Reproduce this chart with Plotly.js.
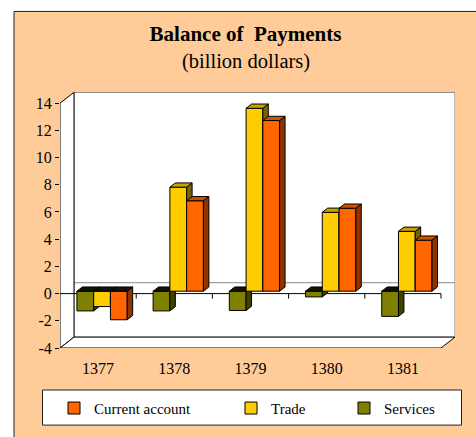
<!DOCTYPE html>
<html>
<head>
<meta charset="utf-8">
<script src="https://cdn.plot.ly/plotly-3.0.1.min.js"></script>
<style>html,body{margin:0;padding:0;background:#fff;}#chart{width:476px;height:437px;}</style>
</head>
<body>
<div id="chart"></div>
<script>
// ---- data ----
const years = ['1377', '1378', '1379', '1380', '1381'];
const currentAccount = [-2.1, 6.65, 12.55, 6.1, 3.75];
const trade = [-1.13, 7.65, 13.45, 5.8, 4.4];
const services = [-1.45, -1.45, -1.42, -0.42, -1.85];
const yTicks = [-4, -2, 0, 2, 4, 6, 8, 10, 12, 14];
const seriesNames = ['Current account', 'Trade', 'Services'];

// ---- pseudo-3D geometry (style only) ----
const FONT = 'Liberation Serif, Times New Roman, serif';
const PXX = 76.2, PXY = 13.76;             // px per data unit
const L = 60, R = 21, T = 92, B = 86, WIDTH = 476, HEIGHT = 437;
const X0 = -0.5, X1 = X0 + (WIDTH - L - R) / PXX;
const Y0 = -4, Y1 = Y0 + (HEIGHT - T - B) / PXY;
const DX = 14 / PXX, DY = 0.8;             // full depth of the box
const BZ = 0.22 * DY;                      // front plane of the bars (zero level)
const SDX = 0.39 * DX, SDY = 0.39 * DY;    // depth of the bars
const CX = 0.052, W = 0.22;                // cluster shift and bar width
const nCat = years.length;
const catIdx = years.map((_, i) => i);

const styles = [
  { name: seriesNames[2], vals: services, k: -1, axis: '', front: '#808000', posTop: '#A6A600', negTop: '#121200', side: '#404000', legend: 'legend3' },
  { name: seriesNames[1], vals: trade, k: 0, axis: '2', front: '#FFCC00', posTop: '#C9A200', negTop: '#111111', side: '#7A6400', legend: 'legend2' },
  { name: seriesNames[0], vals: currentAccount, k: 1, axis: '3', front: '#FF6600', posTop: '#CC5200', negTop: '#111111', side: '#8F3300', legend: 'legend' }
];

function poly(xs, ys, pts) {
  pts.forEach(p => { xs.push(p[0]); ys.push(p[1]); });
  xs.push(pts[0][0]); ys.push(pts[0][1]);
  xs.push(null); ys.push(null);
}

const traces = [];
styles.forEach(s => {
  const xa = 'x' + s.axis, ya = 'y' + s.axis;
  const xc = catIdx.map(i => i + CX + s.k * W);
  traces.push({
    type: 'bar', name: s.name, x: xc, y: s.vals, base: s.vals.map(() => BZ), width: W,
    marker: { color: s.front, line: { color: '#000', width: 1 } },
    xaxis: xa, yaxis: ya, legend: s.legend, hoverinfo: 'skip'
  });
  const side = { x: [], y: [] }, topP = { x: [], y: [] }, topN = { x: [], y: [] };
  s.vals.forEach((v, i) => {
    const x0 = xc[i] - W / 2, x1 = xc[i] + W / 2;
    const lo = BZ + Math.min(v, 0), hi = BZ + Math.max(v, 0);
    poly(side.x, side.y, [[x1, lo], [x1, hi], [x1 + SDX, hi + SDY], [x1 + SDX, lo + SDY]]);
    const tgt = v >= 0 ? topP : topN;
    poly(tgt.x, tgt.y, [[x0, hi], [x1, hi], [x1 + SDX, hi + SDY], [x0 + SDX, hi + SDY]]);
  });
  [[side, s.side], [topP, s.posTop], [topN, s.negTop]].forEach(([d, c]) => {
    if (!d.x.length) return;
    traces.push({
      type: 'scatter', mode: 'lines', x: d.x, y: d.y, fill: 'toself', fillcolor: c,
      line: { color: '#000', width: 1 }, xaxis: xa, yaxis: ya,
      showlegend: false, hoverinfo: 'skip'
    });
  });
});

// ---- box / walls ----
const px2paperX = X => (X - L) / (WIDTH - L - R);
const px2paperY = Y => (HEIGHT - B - Y) / (HEIGHT - T - B);
const shapes = [];
shapes.push({ type: 'rect', xref: 'paper', yref: 'paper', layer: 'below',
  x0: px2paperX(14), x1: px2paperX(490), y0: px2paperY(450), y1: px2paperY(10.5),
  fillcolor: '#FFCC99', line: { color: '#222', width: 1 } });
shapes.push({ type: 'rect', xref: 'paper', yref: 'paper', layer: 'below',
  x0: px2paperX(42.5), x1: px2paperX(461.5), y0: px2paperY(429), y1: px2paperY(393.5),
  fillcolor: '#FFFFFF', line: { color: '#222', width: 1 } });
const xL = -0.5, xR = nCat - 0.5;
const yB = yTicks[0], yT = yTicks[yTicks.length - 1];
const path = pts => 'M' + pts.map(p => p[0] + ',' + p[1]).join('L') + 'Z';
shapes.push({ type: 'rect', xref: 'x', yref: 'y', layer: 'below', x0: xL + DX, x1: xR + DX, y0: yB + DY, y1: yT + DY,
  fillcolor: '#FFFFFF', line: { color: '#777', width: 1 } });
shapes.push({ type: 'line', xref: 'x', yref: 'y', layer: 'below', x0: xL + DX, x1: xR + DX, y0: DY, y1: DY,
  line: { color: '#888', width: 1 } });
shapes.push({ type: 'path', xref: 'x', yref: 'y', layer: 'below',
  path: path([[xL, yB], [xL, yT], [xL + DX, yT + DY], [xL + DX, yB + DY]]),
  fillcolor: '#FFFFFF', line: { color: '#000', width: 1 } });
shapes.push({ type: 'path', xref: 'x', yref: 'y', layer: 'below',
  path: path([[xL, yB], [xR, yB], [xR + DX, yB + DY], [xL + DX, yB + DY]]),
  fillcolor: '#FFFFFF', line: { color: '#000', width: 1 } });
shapes.push({ type: 'line', xref: 'x', yref: 'y', layer: 'below', x0: xL, x1: xR, y0: 0, y1: 0,
  line: { color: '#000', width: 1 } });
const TL = 5 / PXY;
for (let i = 0; i <= nCat; i++) {
  const b = i - 0.5;
  if (i > 0) shapes.push({ type: 'line', xref: 'x', yref: 'y', layer: 'below', x0: b, x1: b, y0: 0, y1: -TL, line: { color: '#000', width: 1 } });
  shapes.push({ type: 'line', xref: 'x', yref: 'y', layer: 'below', x0: b, x1: b, y0: yB, y1: yB - TL, line: { color: '#000', width: 1 } });
}

const legendBase = { orientation: 'h', yanchor: 'middle', y: px2paperY(412), xanchor: 'left',
  bgcolor: 'rgba(0,0,0,0)', borderwidth: 0, font: { family: FONT, size: 15, color: '#000' } };
const hiddenX = { overlaying: 'x', range: [X0, X1], visible: false, fixedrange: true };
const hiddenY = { overlaying: 'y', range: [Y0, Y1], visible: false, fixedrange: true };

const layout = {
  width: WIDTH, height: HEIGHT,
  margin: { l: L, r: R, t: T, b: B, pad: 0 },
  paper_bgcolor: '#FFFFFF', plot_bgcolor: 'rgba(0,0,0,0)',
  barmode: 'overlay',
  title: { text: 'Balance of  Payments', font: { family: FONT, size: 21, weight: 'bold', color: '#000' },
    xref: 'container', yref: 'container', x: 245.5 / WIDTH, xanchor: 'center', y: 1 - 33.5 / HEIGHT, yanchor: 'middle' },
  annotations: [{ text: '(billion dollars)', xref: 'paper', yref: 'paper', x: px2paperX(245.5), y: px2paperY(61.5),
    xanchor: 'center', yanchor: 'middle', showarrow: false, font: { family: FONT, size: 20.5, color: '#000' } }],
  xaxis: { range: [X0, X1], tickvals: catIdx, ticktext: years, showgrid: false, zeroline: false, showline: false,
    ticks: 'outside', ticklen: 6, tickcolor: 'rgba(0,0,0,0)', tickfont: { family: FONT, size: 16, color: '#000' }, fixedrange: true },
  yaxis: { range: [Y0, Y1], tickvals: yTicks, ticktext: yTicks.map(String), showgrid: false, zeroline: false, showline: false,
    ticks: 'outside', ticklen: 4, tickcolor: '#000', tickwidth: 1, tickfont: { family: FONT, size: 16, color: '#000' }, fixedrange: true },
  xaxis2: hiddenX, yaxis2: hiddenY, xaxis3: hiddenX, yaxis3: hiddenY,
  legend: Object.assign({}, legendBase, { x: px2paperX(91 - 37) }),
  legend2: Object.assign({}, legendBase, { x: px2paperX(268 - 37) }),
  legend3: Object.assign({}, legendBase, { x: px2paperX(381 - 37) }),
  shapes: shapes,
  showlegend: true
};

Plotly.newPlot('chart', traces, layout, { displayModeBar: false, staticPlot: true });
</script>
</body>
</html>
